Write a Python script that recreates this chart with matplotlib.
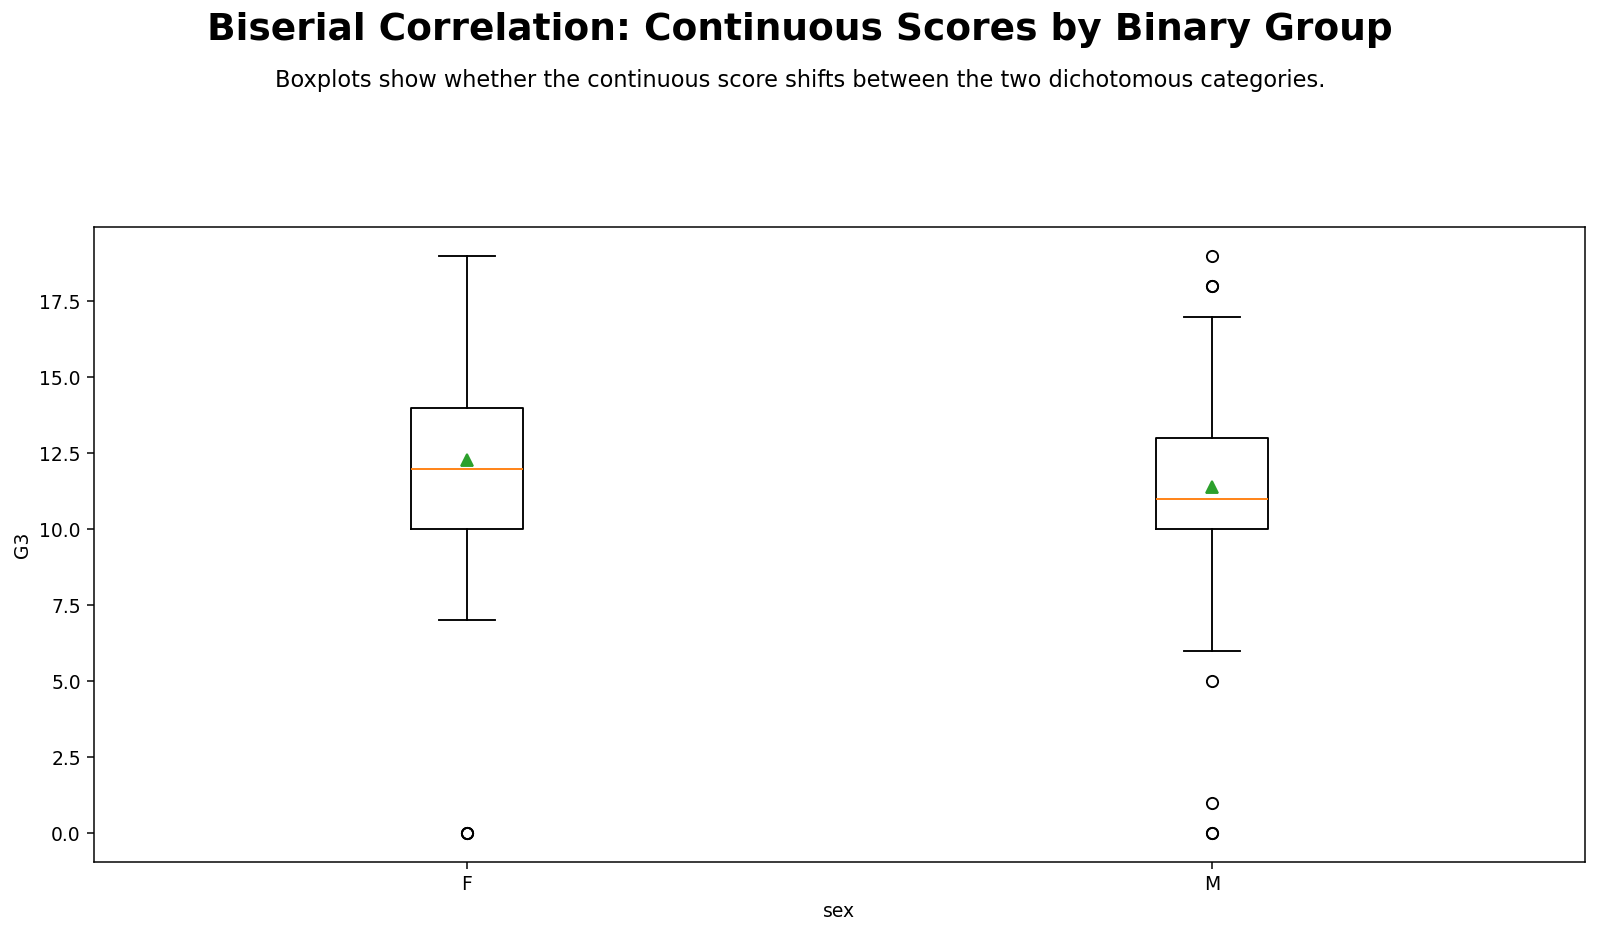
import matplotlib
matplotlib.use("Agg")
import matplotlib.pyplot as plt

# summary stats (G3 by sex)
groups = ["F", "M"]
q1 = [10, 10]
medians = [12, 11]
q3 = [14, 13]
whisker_low = [7, 6]
whisker_high = [19, 17]
means = [12.27, 11.38]
outliers = [[0, 0, 0], [19, 18, 18, 5, 1, 0, 0]]

stats = []
for i, g in enumerate(groups):
    stats.append({
        "label": g,
        "q1": q1[i],
        "med": medians[i],
        "q3": q3[i],
        "whislo": whisker_low[i],
        "whishi": whisker_high[i],
        "mean": means[i],
        "fliers": outliers[i],
    })

DPI = 135
fig = plt.figure(figsize=(1600 / DPI, 932 / DPI), dpi=DPI)
ax = fig.add_axes([94 / 1600, 1 - 862 / 932, (1585 - 94) / 1600, (862 - 227) / 932])

ax.bxp(stats, showmeans=True)

ax.set_xlabel("sex")
ax.set_ylabel("G3")

fig.text(0.5, 1 - 30 / 932, "Biserial Correlation: Continuous Scores by Binary Group",
         ha="center", va="center", fontsize=20, fontweight="bold")
fig.text(0.5, 1 - 80 / 932,
         "Boxplots show whether the continuous score shifts between the two dichotomous categories.",
         ha="center", va="center", fontsize=12)

fig.savefig("out.png", dpi=DPI)
